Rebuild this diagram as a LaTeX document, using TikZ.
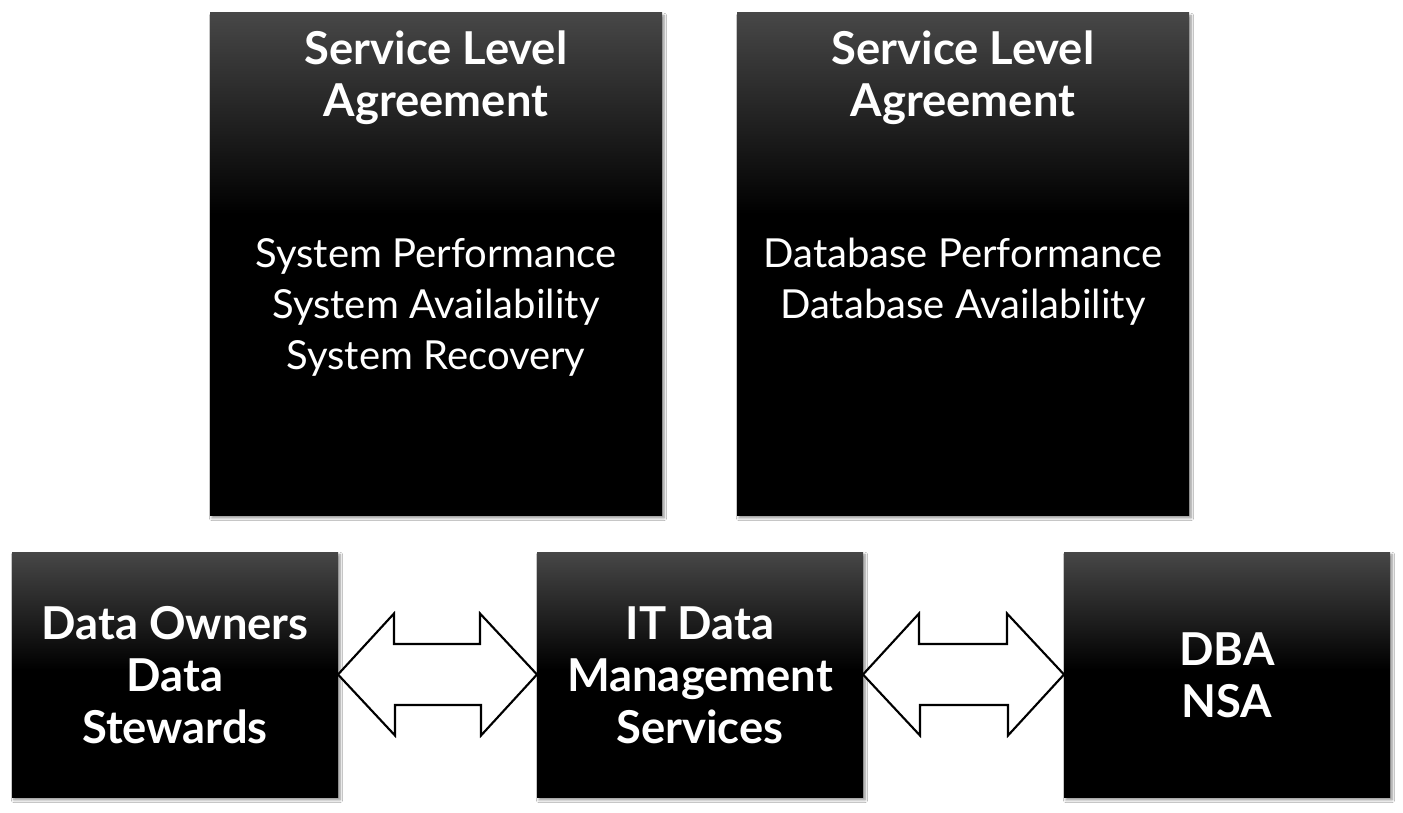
\documentclass[tikz,border=0pt]{standalone}
\usepackage{fontspec}
\setmainfont{Lato}
\usetikzlibrary{shadows.blur}
\definecolor{boxtop}{HTML}{474747}
% vertical fades: the path's box spans 25bp (bottom) to 75bp (top)
\pgfdeclareverticalshading{tallfade}{100bp}{color(0bp)=(black); color(55bp)=(black);
  color(75bp)=(boxtop); color(100bp)=(boxtop)}
\pgfdeclareverticalshading{lowfade}{100bp}{color(0bp)=(black); color(51bp)=(black);
  color(75bp)=(boxtop); color(100bp)=(boxtop)}
\tikzset{
  panel/.style={draw=none, inner sep=0pt, outer sep=0pt,
    blur shadow={shadow xshift=1.5pt, shadow yshift=-2.2pt, shadow blur steps=6, shadow opacity=45}},
  toppanel/.style={panel, shading=tallfade, minimum width=339pt, minimum height=376.5pt},
  lowpanel/.style={panel, shading=lowfade, minimum width=244.5pt, minimum height=183.75pt},
  heading/.style={text=white, align=center, font=\fontsize{34}{39}\selectfont\bfseries},
  bodytext/.style={text=white, align=center, font=\fontsize{30}{38.25}\selectfont},
  lowtext/.style={text=white, align=center, font=\fontsize{34}{39}\selectfont\bfseries},
  dblarrow/.style={draw=black, fill=white, line width=1.6pt, line join=miter}
}
\begin{document}
\begin{tikzpicture}[x=0.75pt, y=-0.75pt]
  \useasboundingbox[fill=white] (0,0) rectangle (1403,813);

  % upper agreement panels
  \node[toppanel] (sla1) at (436,264) {};
  \node[toppanel] (sla2) at (963,264) {};
  \node[heading] (sla1h) at (436,78) {Service Level\\Agreement};
  \node[heading] (sla2h) at (963,78) {Service Level\\Agreement};
  \node[bodytext] (sla1b) at (436,307) {System Performance\\System Availability\\System Recovery};
  \node[bodytext] (sla2b) at (963,281.5) {Database Performance\\Database Availability};

  % lower row of parties
  \node[lowpanel] (owners) at (175,674.5) {};
  \node[lowpanel] (itdms) at (700,674.5) {};
  \node[lowpanel] (dba) at (1227,674.5) {};
  \node[lowtext] (ownerst) at (175,675) {Data Owners\\Data\\Stewards};
  \node[lowtext] (itdmst) at (700,675) {IT Data\\Management\\Services};
  \node[lowtext] (dbat) at (1227,675) {DBA\\NSA};

  % two-headed block arrows between the parties
  \draw[dblarrow] (owners.east) -- ++(56,-61) -- ++(0,30.5) -- ++(86,0) -- ++(0,-30.5)
     -- (itdms.west) -- ++(-56,61) -- ++(0,-30.5) -- ++(-86,0) -- ++(0,30.5) -- cycle;
  \draw[dblarrow] (itdms.east) -- ++(56,-61) -- ++(0,30.5) -- ++(88,0) -- ++(0,-30.5)
     -- (dba.west) -- ++(-56,61) -- ++(0,-30.5) -- ++(-88,0) -- ++(0,30.5) -- cycle;
\end{tikzpicture}
\end{document}
